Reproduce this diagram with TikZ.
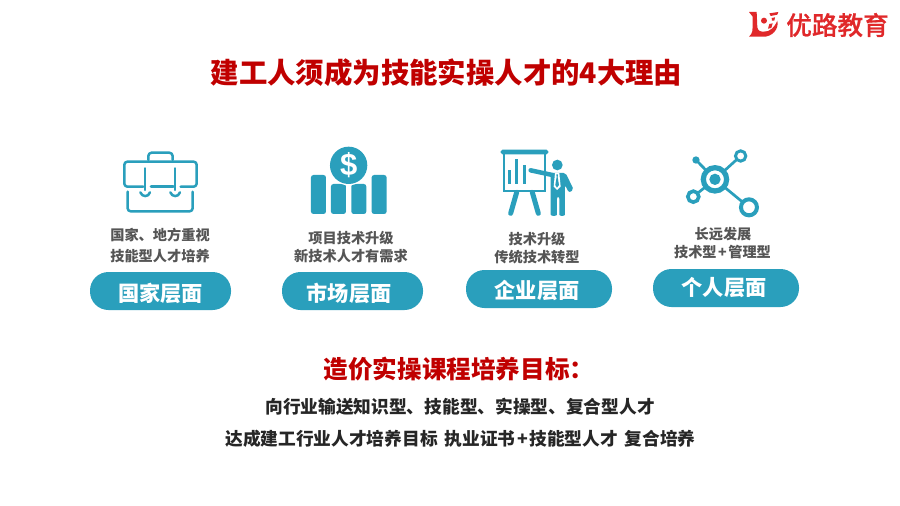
\documentclass[tikz,border=0pt]{standalone}
\usepackage{fontspec}
\setmainfont{Noto Sans CJK SC}
\newfontfamily\logofont[FakeBold=0.6]{Noto Sans CJK SC Medium}
\newfontfamily\dollarfont{Liberation Sans}
\definecolor{teal1}{HTML}{2A9FBC}
\definecolor{redt}{HTML}{C00000}
\definecolor{logored}{HTML}{E0282A}
\definecolor{greyt}{HTML}{555555}
\definecolor{darkt}{HTML}{262626}
\newcommand{\fsz}[1]{\fontsize{#1pt}{#1pt}\selectfont\bfseries}
\tikzset{
  pill/.style={fill=teal1,rounded corners=18.5pt,inner sep=0pt},
  pilltext/.style={text=white,font=\fsz{21.2},inner sep=0pt},
  lab/.style={text=greyt,font=\fsz{14.2},inner sep=0pt},
  ico/.style={draw=teal1,line width=2.5pt,line cap=round,line join=round},
  icof/.style={fill=teal1,draw=none},
}
\begin{document}
\begin{tikzpicture}[x=1pt,y=-1pt]
\useasboundingbox (0,0) rectangle (900,506);
\fill[white] (0,0) rectangle (900,506);
% titles
\node[text=redt,font=\fsz{28.4},inner sep=0pt] (title) at (446.5,73) {建工人须成为技能实操人才的4大理由};
\node[text=redt,font=\fsz{24.6},inner sep=0pt] (goal) at (459,369) {造价实操课程培养目标：};
\node[text=darkt,font=\fsz{17.7},inner sep=0pt] (l1) at (460,407) {向行业输送知识型、技能型、实操型、复合型人才};
\node[text=darkt,font=\fsz{17.7},inner sep=0pt] (l2) at (460.5,439) {达成建工行业人才培养目标\hspace{7pt}执业证书\hspace{1.5pt}+\hspace{1.5pt}技能型人才\hspace{7pt}复合培养};
% pills
\fill[pill] (90,272) rectangle (231,310);
\node[pilltext] (p1) at (160.5,293.5) {国家层面};
\fill[pill] (282,272) rectangle (423,310);
\node[pilltext] (p2) at (349,293.5) {市场层面};
\fill[pill] (466,270) rectangle (612,308);
\node[pilltext] (p3) at (537,290.5) {企业层面};
\fill[pill] (653,269) rectangle (799,307);
\node[pilltext] (p4) at (724,288) {个人层面};
% labels
\node[lab] (a1) at (160,235) {国家、地方重视};
\node[lab] (a2) at (160,256) {技能型人才培养};
\node[lab] (b1) at (351,238) {项目技术升级};
\node[lab] (b2) at (351,256) {新技术人才有需求};
\node[lab] (c1) at (537,239) {技术升级};
\node[lab] (c2) at (537,257) {传统技术转型};
\node[lab] (d1) at (723,234) {长远发展};
\node[lab] (d2) at (722.5,252) {技术型\hspace{1.5pt}+\hspace{1.5pt}管理型};
% briefcase & bars
\begin{scope}[shift={(90,140)},x=0.3333pt,y=-0.3333pt]
\draw[ico] (175,60) -- (175,48) to[out=90,in=180] (185,38) -- (238,38) to[out=0,in=90] (248,48) -- (248,60);
\draw[ico,rounded corners=3pt] (160,140) -- (103,140) -- (103,65) -- (320,65) -- (320,140) -- (272,140);
\draw[ico] (183,140) -- (250,140);
\draw[ico] (165,85) -- (165,150);
\draw[ico] (255,85) -- (255,150);
\draw[ico] (151,157) .. controls (156,172) and (176,172) .. (180,157);
\draw[ico] (241,157) .. controls (246,172) and (266,172) .. (270,157);
\draw[ico,rounded corners=3pt] (113,155) -- (113,214) -- (308,214) -- (308,155);
\fill[icof,rounded corners=2.5pt] (663,105) rectangle (708,222);
\fill[icof,rounded corners=2.5pt] (723,132) rectangle (768,222);
\fill[icof,rounded corners=2.5pt] (784,132) rectangle (829,222);
\fill[icof,rounded corners=2.5pt] (845,105) rectangle (890,222);
\fill[white] (776,76) circle (60);
\fill[icof] (776,76) circle (56);
\node[text=white,font=\dollarfont\fsz{31},inner sep=0pt] (dollar) at (776,75) {\$};
\end{scope}
% presenter
\begin{scope}[shift={(495,145)},x=0.3333pt,y=-0.3333pt]
\draw[teal1,line width=2.3pt] (27,22) rectangle (151,137);
\fill[icof,rounded corners=1.8pt] (17,14) rectangle (160,28);
\draw[teal1,line width=2.8pt] (43,76) -- (43,118);
\draw[teal1,line width=2.8pt] (65,43) -- (65,118);
\draw[teal1,line width=2.8pt] (88,61) -- (88,118);
\draw[teal1,line width=5pt,line cap=round] (65,142) -- (47,205);
\draw[teal1,line width=5pt,line cap=round] (112,142) -- (130,205);
\fill[icof] (187,60) circle (16);
\draw[teal1,line width=4.5pt,line cap=round] (107,76) -- (172,90);
\fill[icof,rounded corners=2pt] (167,84) -- (212,84) -- (236,134) -- (222,143) -- (210,120) -- (210,203) .. controls (210,214) and (193,214) .. (193,203) -- (193,155) -- (186,155) -- (186,203) .. controls (186,214) and (167,214) .. (167,203) -- cycle;
\fill[white] (180,84) -- (193,84) -- (197,125) -- (186,135) -- (176,125) -- cycle;
\fill[teal1] (184,88) -- (189,88) -- (188,96) -- (192,120) -- (186,128) -- (181,120) -- (185,96) -- cycle;
\end{scope}
% network
\begin{scope}[shift={(450,140)},x=0.3333pt,y=-0.3333pt]
\draw[teal1,line width=2.7pt] (738,60) -- (795,118) (872,48) -- (795,118) (730,170) -- (795,118) (897,202) -- (795,118);
\fill[white] (795,118) circle (35);
\draw[teal1,line width=5.2pt] (795,118) circle (35);
\fill[icof] (795,118) circle (17);
\fill[icof] (738,60) circle (11);
\draw[teal1,line width=3pt,fill=white] (872,48) circle (15.5);
\draw[teal1,line width=3.6pt,fill=white] (730,170) circle (16.5);
\draw[teal1,line width=4pt,fill=white] (897,202) circle (24);
\end{scope}
% logo
\begin{scope}[shift={(740,0)},x=0.3333pt,y=-0.3333pt]
\fill[logored] (27,36) -- (50,36) -- (52,82) .. controls (54,92) and (60,95) .. (70,95) .. controls (90,97) and (105,80) .. (112,62) .. controls (118,88) and (95,112) .. (68,110) -- (27,110) .. controls (38,100) and (38,90) .. (38,80) -- (38,50) -- cycle;
\fill[logored] (72,62) circle (9);
\fill[logored] (88,40) -- (115,36) -- (112,44) -- (92,48) -- cycle;
\fill[logored] (95,54) -- (105,52) -- (103,62) -- (96,62) -- cycle;
\fill[logored] (88,72) -- (98,70) -- (94,84) -- (84,86) -- cycle;
\end{scope}
\node[text=logored,font=\fontsize{25.6pt}{25.6pt}\logofont,inner sep=0pt] (logo) at (837.5,25) {优路教育};
\end{tikzpicture}
\end{document}
